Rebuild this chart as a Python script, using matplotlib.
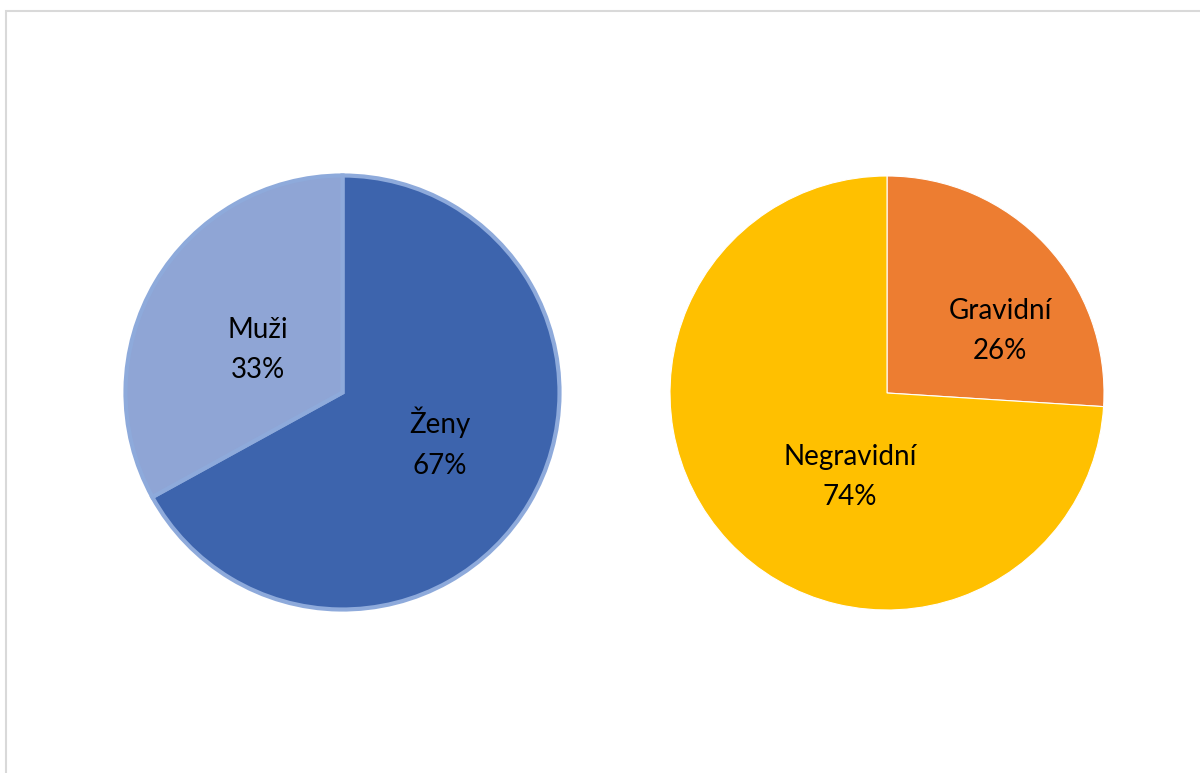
import matplotlib
matplotlib.use("Agg")
import matplotlib.pyplot as plt
from matplotlib.patches import Rectangle

plt.rcParams['font.family'] = ['Lato', 'DejaVu Sans']

# pohlaví
sex_labels = ['Ženy', 'Muži']
sex_pct = [67, 33]
sex_colors = ['#3D64AD', '#8FA5D5']

# gravidita
grav_labels = ['Gravidní', 'Negravidní']
grav_pct = [26, 74]
grav_colors = ['#ED7D31', '#FFC000']

W, H = 1200, 773
fig = plt.figure(figsize=(12, 7.73), dpi=100)
ax = fig.add_axes([0, 0, 1, 1])
ax.set_xlim(0, W)
ax.set_ylim(0, H)
ax.set_aspect('equal')
ax.axis('off')

# ramecek grafu (vpravo a dole je oriznuty)
ax.add_patch(Rectangle((6, -20), W + 20, H - 10.5 + 20, fill=False,
                       edgecolor='#D9D9D9', linewidth=1.5))

R = 217

def pie(values, labels, colors, cx, cy, text_pos, edge, lw):
    ax.pie(values, colors=colors, startangle=90, counterclock=False,
           center=(cx, H - cy), radius=R, frame=True,
           wedgeprops=dict(edgecolor=edge, linewidth=lw))
    for lab, v, (tx, ty) in zip(labels, values, text_pos):
        ax.text(tx, H - ty, f'{lab}\n{v}%', ha='center', va='center',
                fontsize=20, linespacing=1.7, color='black')

pie(sex_pct, sex_labels, sex_colors, 342.5, 392.5,
    [(440, 443), (258, 350)], '#8EAADB', 3)
pie(grav_pct, grav_labels, grav_colors, 887, 393,
    [(1000, 331), (850, 477)], 'white', 0.8)

ax.set_xlim(0, W)
ax.set_ylim(0, H)
ax.axis('off')

fig.savefig('out.png', dpi=100)
